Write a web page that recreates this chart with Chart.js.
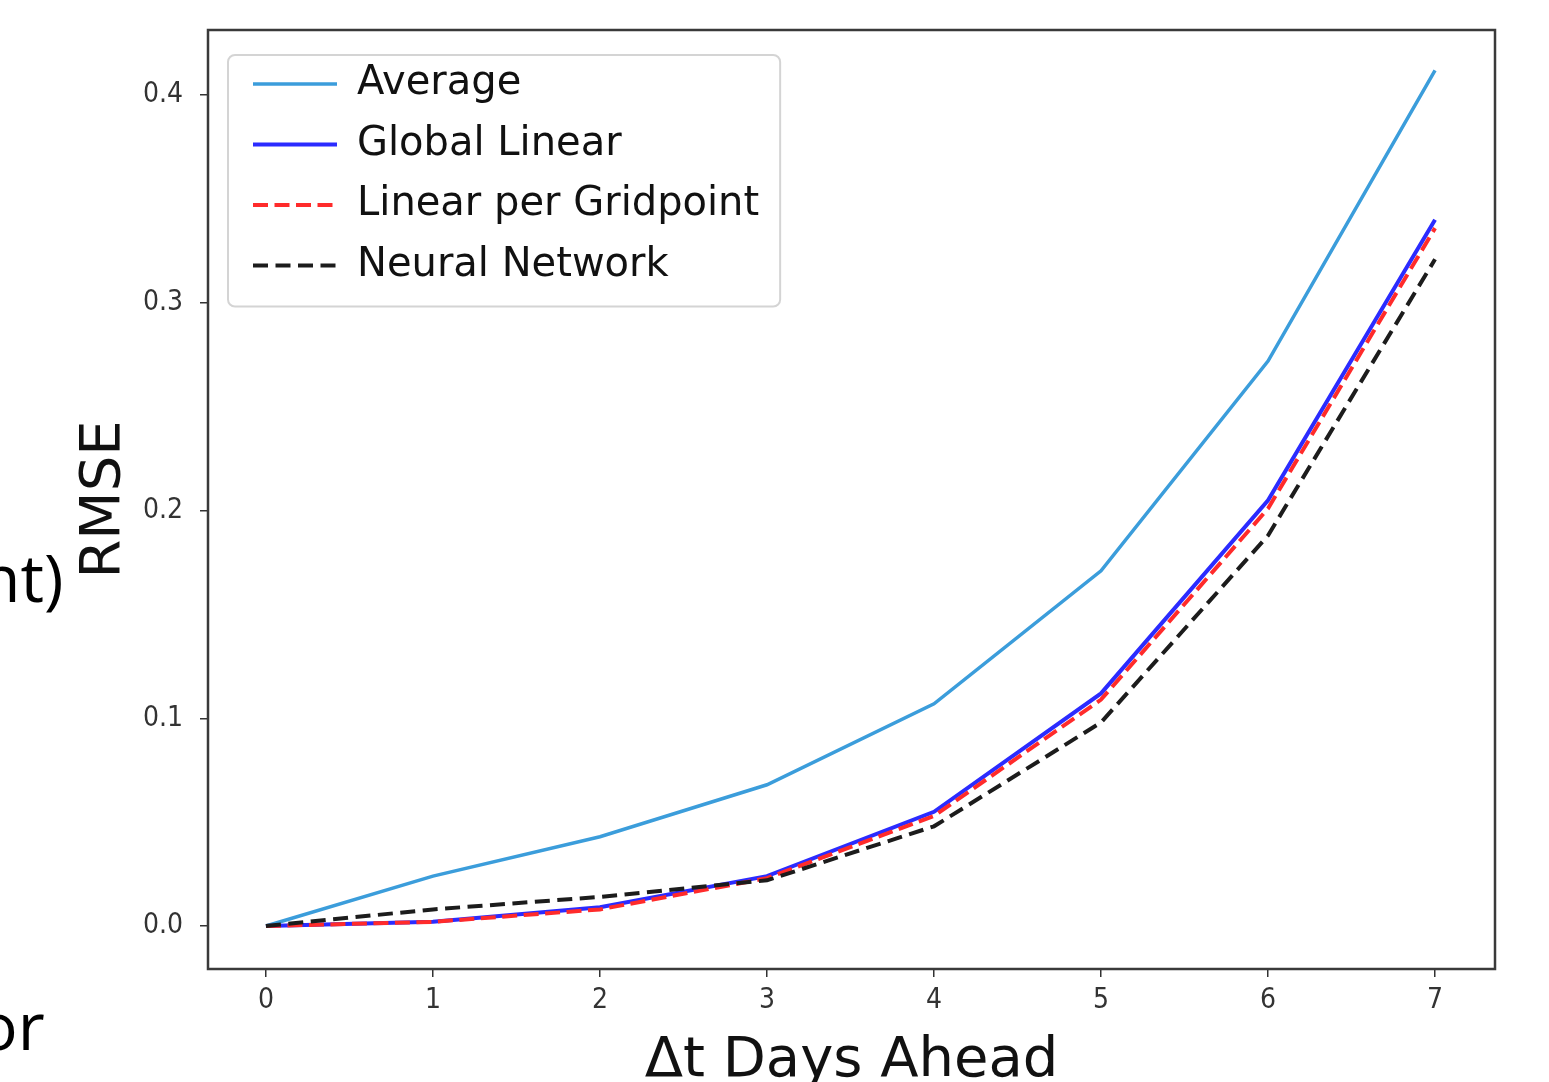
<!DOCTYPE html>
<html>
<head>
<meta charset="utf-8">
<script src="https://cdn.jsdelivr.net/npm/chart.js@4.4.1/dist/chart.umd.min.js"></script>
<style>
  html, body { margin: 0; padding: 0; background: #fff; overflow: hidden; }
  #wrap { position: relative; width: 1549px; height: 1082px; overflow: hidden; }
  #rmseChart { position: absolute; left: 0; top: 0; }
  .side { position: absolute; font-family: "Open Sans", sans-serif; font-size: 66px; line-height: 1; color: #000; white-space: nowrap; }
</style>
</head>
<body>
<div id="wrap">
  <canvas id="rmseChart" width="1549" height="1082"></canvas>
  <div class="side" style="left:-20px; top:543px;">nt)</div>
  <div class="side" style="left:-22px; top:991px;">or</div>
</div>
<script>
// days ahead on the x axis
const days = [0, 1, 2, 3, 4, 5, 6, 7];

// RMSE per model
const average = [0.000, 0.024, 0.043, 0.068, 0.107, 0.171, 0.272, 0.412];
const globalLinear = [0.000, 0.002, 0.009, 0.024, 0.055, 0.112, 0.205, 0.340];
const linearPerGridpoint = [0.000, 0.002, 0.008, 0.023, 0.053, 0.109, 0.201, 0.336];
const neuralNetwork = [0.000, 0.008, 0.014, 0.022, 0.048, 0.098, 0.188, 0.321];

const seriesNames = ["Average", "Global Linear", "Linear per Gridpoint", "Neural Network"];

const xTitle = "\u0394t Days Ahead";
const yTitle = "RMSE";

const xTickFont = { family: '"DejaVu Sans Condensed", "DejaVu Sans", sans-serif', size: 28 };
const yTickFont = { family: '"DejaVu Sans Condensed", "DejaVu Sans", sans-serif', size: 28, lineHeight: 0.8 };
const titleFont = { family: '"DejaVu Sans", sans-serif', size: 56, lineHeight: 1 };
const xTitleFont = { family: '"DejaVu Sans", sans-serif', size: 56, lineHeight: 0.75 };
const legendFont = { family: '"DejaVu Sans", sans-serif', size: 40 };
const legendPad = 20.5;

const toPoints = (vals) => vals.map((v, i) => ({ x: days[i], y: v }));

// frame around plot + legend box, matplotlib style
const framePlugin = {
  id: "frame",
  afterLayout(chart) {
    const lg = chart.legend;
    if (!lg) return;
    const ca = chart.chartArea;
    // move the legend inside the axes, upper left
    lg.left = ca.left + 45 - legendPad;
    lg.top = ca.top + 34 - legendPad;
    lg.bottom = ca.bottom;
  },
  beforeDraw(chart) {
    const lg = chart.legend;
    const ctx = chart.ctx;
    ctx.save();
    ctx.font = `${legendFont.size}px ${legendFont.family}`;
    let maxW = 0;
    seriesNames.forEach((s) => { maxW = Math.max(maxW, ctx.measureText(s).width); });
    const x0 = chart.chartArea.left + 20;
    const y0 = lg.top + legendPad - 9;
    const textX = lg.left + legendPad + 84 + legendFont.size / 2;
    const w = textX + maxW + 21 - x0;
    const h = 9 + seriesNames.length * legendFont.size + (seriesNames.length - 1) * legendPad + 21;
    ctx.beginPath();
    ctx.roundRect(x0, y0, w, h, 7);
    ctx.fillStyle = "rgba(255,255,255,0.8)";
    ctx.fill();
    ctx.lineWidth = 2;
    ctx.strokeStyle = "#d4d4d4";
    ctx.stroke();
    ctx.restore();
  },
  afterDraw(chart) {
    const { ctx, chartArea: a } = chart;
    ctx.save();
    ctx.lineWidth = 2.5;
    ctx.strokeStyle = "#3a3a3a";
    ctx.strokeRect(a.left, a.top, a.right - a.left, a.bottom - a.top);
    ctx.restore();
  }
};

const ctx = document.getElementById("rmseChart");
new Chart(ctx, {
  type: "line",
  data: {
    datasets: [
      {
        label: seriesNames[0],
        data: toPoints(average),
        borderColor: "#3b9ddb",
        borderWidth: 3.5,
        order: 3
      },
      {
        label: seriesNames[1],
        data: toPoints(globalLinear),
        borderColor: "#2b2bff",
        borderWidth: 4,
        order: 2
      },
      {
        label: seriesNames[2],
        data: toPoints(linearPerGridpoint),
        borderColor: "#ff2b2b",
        borderWidth: 4,
        borderDash: [15, 6.5],
        order: 1
      },
      {
        label: seriesNames[3],
        data: toPoints(neuralNetwork),
        borderColor: "#1c1c1c",
        borderWidth: 4,
        borderDash: [15, 7.5],
        order: 0
      }
    ]
  },
  options: {
    responsive: false,
    animation: false,
    devicePixelRatio: 1,
    elements: {
      point: { radius: 0 },
      line: { tension: 0, fill: false }
    },
    layout: { padding: { top: 30, right: 54, left: 0, bottom: 0 } },
    plugins: {
      tooltip: { enabled: false },
      legend: {
        position: "chartArea",
        align: "start",
        labels: {
          usePointStyle: true,
          pointStyle: "line",
          pointStyleWidth: 84,
          padding: legendPad,
          color: "#111",
          font: legendFont,
          sort: (a, b) => a.datasetIndex - b.datasetIndex,
          generateLabels: (chart) => {
            const items = Chart.defaults.plugins.legend.labels.generateLabels(chart);
            items.forEach((it) => {
              const ds = chart.data.datasets[it.datasetIndex];
              it.lineDash = ds.borderDash || [];
              it.strokeStyle = ds.borderColor;
              it.lineWidth = ds.borderWidth;
            });
            return items;
          }
        }
      }
    },
    scales: {
      x: {
        type: "linear",
        min: -0.347,
        max: 7.359,
        afterFit: (scale) => { scale.height = 113; },
        border: { display: false },
        grid: { drawOnChartArea: false, drawTicks: true, tickLength: 8, color: "#333", lineWidth: 1.5 },
        ticks: {
          stepSize: 1,
          includeBounds: false,
          maxRotation: 0,
          padding: 7,
          color: "#333",
          font: xTickFont
        },
        title: {
          display: true,
          text: xTitle,
          color: "#111",
          font: xTitleFont,
          padding: { top: 0, bottom: 0 }
        }
      },
      y: {
        min: -0.0207,
        max: 0.4314,
        afterFit: (scale) => { scale.width = 208; },
        border: { display: false },
        grid: { drawOnChartArea: false, drawTicks: true, tickLength: 8, color: "#333", lineWidth: 1.5 },
        ticks: {
          stepSize: 0.1,
          includeBounds: false,
          padding: 17,
          color: "#333",
          font: yTickFont,
          callback: (v) => v.toFixed(1)
        },
        title: {
          display: true,
          text: yTitle,
          color: "#111",
          font: titleFont,
          padding: { top: 76, bottom: 0 }
        }
      }
    }
  },
  plugins: [framePlugin]
});
</script>
</body>
</html>
